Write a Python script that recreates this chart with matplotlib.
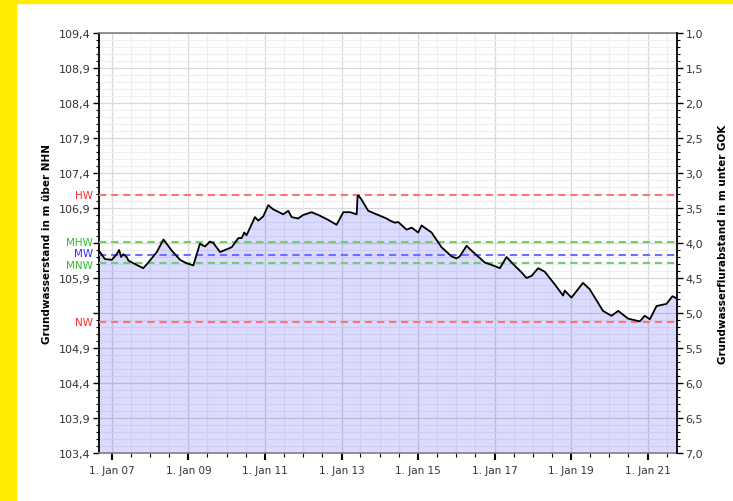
import matplotlib
matplotlib.use("Agg")
import matplotlib.pyplot as plt
import matplotlib.dates as mdates
from matplotlib.patches import Rectangle
from matplotlib.ticker import FixedLocator, MultipleLocator, FuncFormatter
import numpy as np
import pandas as pd

# groundwater level hydrograph (m above NHN)
dates = [
    "2006-09-01", "2006-10-28", "2007-01-01", "2007-02-17", "2007-03-12", "2007-03-31",
    "2007-04-20", "2007-05-23", "2007-06-08", "2007-08-10", "2007-10-28", "2007-12-15",
    "2008-03-05", "2008-05-08", "2008-07-27", "2008-10-13", "2008-12-16", "2009-02-17",
    "2009-04-21", "2009-06-08", "2009-07-26", "2009-08-27", "2009-10-30", "2010-01-01",
    "2010-02-18", "2010-04-22", "2010-05-24", "2010-06-18", "2010-07-10", "2010-09-28",
    "2010-10-30", "2010-12-16", "2011-02-02", "2011-03-22", "2011-06-25", "2011-08-12",
    "2011-09-13", "2011-11-14", "2012-01-01", "2012-03-22", "2012-06-09", "2012-08-27",
    "2012-11-15", "2013-01-18", "2013-03-23", "2013-05-26", "2013-06-03", "2013-06-10",
    "2013-07-11", "2013-09-13", "2013-12-01", "2014-03-07", "2014-04-08", "2014-05-25",
    "2014-06-26", "2014-09-14", "2014-11-01", "2015-01-02", "2015-02-04", "2015-05-10",
    "2015-08-13", "2015-11-16", "2016-01-03", "2016-02-04", "2016-04-08", "2016-06-10",
    "2016-09-30", "2017-01-03", "2017-02-20", "2017-04-24", "2017-06-26", "2017-09-15",
    "2017-11-01", "2017-12-19", "2018-02-20", "2018-04-24", "2018-07-28", "2018-10-16",
    "2018-11-01", "2019-01-04", "2019-04-24", "2019-06-27", "2019-11-01", "2020-01-21",
    "2020-03-25", "2020-06-27", "2020-10-17", "2020-12-04", "2021-01-21", "2021-03-26",
    "2021-06-28", "2021-08-25", "2021-10-02",
]
levels = [
    106.29, 106.17, 106.16, 106.24, 106.30, 106.20,
    106.24, 106.20, 106.15, 106.10, 106.04, 106.12,
    106.27, 106.45, 106.29, 106.16, 106.11, 106.08,
    106.39, 106.35, 106.42, 106.40, 106.27, 106.31,
    106.34, 106.47, 106.47, 106.55, 106.51, 106.77,
    106.72, 106.78, 106.94, 106.88, 106.81, 106.86,
    106.77, 106.75, 106.80, 106.84, 106.79, 106.73,
    106.66, 106.84, 106.84, 106.81, 107.07, 107.08,
    107.02, 106.86, 106.81, 106.75, 106.72, 106.69,
    106.70, 106.59, 106.62, 106.55, 106.65, 106.55,
    106.34, 106.21, 106.18, 106.21, 106.36, 106.27,
    106.12, 106.07, 106.04, 106.20, 106.10, 105.98,
    105.90, 105.93, 106.04, 105.99, 105.81, 105.65,
    105.72, 105.62, 105.83, 105.74, 105.43, 105.36,
    105.43, 105.32, 105.28, 105.36, 105.31, 105.50,
    105.53, 105.64, 105.61,
]

# characteristic levels
ref_names = ["HW", "MHW", "MW", "MNW", "NW"]
ref_levels = [107.08, 106.42, 106.23, 106.11, 105.27]
ref_line_colors = ["#ff7373", "#6fcf6f", "#6f6fff", "#6fcf6f", "#ff7373"]
ref_text_colors = ["#ff2a2a", "#2fbf2f", "#2a2aff", "#2fbf2f", "#ff2a2a"]
ref_nudge = [0, 0, 1.5, -1.5, 0]   # points, keeps MW / MNW labels apart

GOK = 110.4          # ground level, used for right axis
Y_MIN, Y_MAX = 103.4, 109.4
X_START, X_END = "2006-09-01", "2021-10-07"

plt.rcParams["font.family"] = ["DejaVu Sans"]

t = pd.to_datetime(dates)

fig = plt.figure(figsize=(7.33, 5.02), dpi=100)
fig.patch.set_facecolor("white")
# yellow frame on left and top
fig.patches.append(Rectangle((0, 0), 16 / 733, 1, transform=fig.transFigure,
                             color="#ffec00", zorder=0))
fig.patches.append(Rectangle((0, 1 - 4 / 502), 1, 4 / 502, transform=fig.transFigure,
                             color="#ffec00", zorder=0))

ax = fig.add_axes([99 / 733, 1 - 454 / 502, 578 / 733, 420 / 502])
ax.set_axisbelow(True)

ax.fill_between(t, levels, Y_MIN, color=(0, 0, 1), alpha=0.14, lw=0, zorder=2)
ax.plot(t, levels, color="black", lw=1.3, zorder=4)

for name, lvl, lc, tc, dy in zip(ref_names, ref_levels, ref_line_colors,
                                 ref_text_colors, ref_nudge):
    ax.axhline(lvl, color=lc, lw=1.5, ls=(0, (3.5, 2.3)), zorder=3)
    ax.annotate(name, xy=(0, lvl), xycoords=ax.get_yaxis_transform(),
                xytext=(-4.5, dy), textcoords="offset points", ha="right",
                va="center", color=tc, fontsize=7.5)

ax.set_xlim(pd.Timestamp(X_START), pd.Timestamp(X_END))
ax.set_ylim(Y_MIN, Y_MAX)

# y axis ticks (left)
yticks = np.round(np.arange(Y_MIN, Y_MAX + 0.01, 0.5), 1)
ax.yaxis.set_major_locator(FixedLocator(yticks))
ax.yaxis.set_minor_locator(MultipleLocator(0.1))

def left_fmt(v, pos):
    if any(abs(v - r) < 0.15 for r in ref_levels):
        return ""
    return f"{v:.1f}".replace(".", ",")

ax.yaxis.set_major_formatter(FuncFormatter(left_fmt))

# x axis ticks
xmajor = [pd.Timestamp(f"{y}-01-01") for y in range(2007, 2022, 2)]
ax.xaxis.set_major_locator(FixedLocator(mdates.date2num(xmajor)))
ax.xaxis.set_minor_locator(mdates.MonthLocator(bymonth=[1, 7]))
ax.xaxis.set_major_formatter(FuncFormatter(
    lambda v, p: f"1. Jan {mdates.num2date(v).year % 100:02d}"))

ax.grid(which="minor", color="#efefef", lw=0.8)
ax.grid(which="major", color="#d9d9d9", lw=0.9)

ax.tick_params(axis="y", which="major", length=4, width=1, color="black",
               labelsize=8, labelcolor="#333333", pad=2)
ax.tick_params(axis="y", which="minor", length=2.5, width=0.8, color="black")
ax.tick_params(axis="x", which="major", length=5, width=1.5, color="black",
               labelsize=7.5, labelcolor="#333333", pad=4)
ax.tick_params(axis="x", which="minor", length=3, width=0.8, color="black")

ax.spines["left"].set_color("black")
ax.spines["left"].set_linewidth(1.3)
ax.spines["top"].set_color("#808080")
ax.spines["top"].set_linewidth(1.2)
ax.spines["bottom"].set_color("#808080")
ax.spines["bottom"].set_linewidth(1.2)
ax.spines["right"].set_visible(False)

ax.set_ylabel("Grundwasserstand in m über NHN", fontsize=7.5, fontweight="bold",
              labelpad=5)

# right axis: depth below ground
ax2 = ax.twinx()
ax2.set_ylim(GOK - Y_MIN, GOK - Y_MAX)
ax2.yaxis.set_major_locator(MultipleLocator(0.5))
ax2.yaxis.set_minor_locator(MultipleLocator(0.1))
ax2.yaxis.set_major_formatter(FuncFormatter(lambda v, p: f"{v:.1f}".replace(".", ",")))
ax2.tick_params(axis="y", which="major", length=4, width=1, color="black",
                labelsize=8, labelcolor="#333333", pad=2)
ax2.tick_params(axis="y", which="minor", length=2.5, width=0.8, color="black")
for s in ["left", "top", "bottom"]:
    ax2.spines[s].set_visible(False)
ax2.spines["right"].set_color("black")
ax2.spines["right"].set_linewidth(1.3)
ax2.set_ylabel("Grundwasserflurabstand in m unter GOK", fontsize=7.5,
               fontweight="bold", labelpad=11)

fig.savefig("out.png", dpi=100)
